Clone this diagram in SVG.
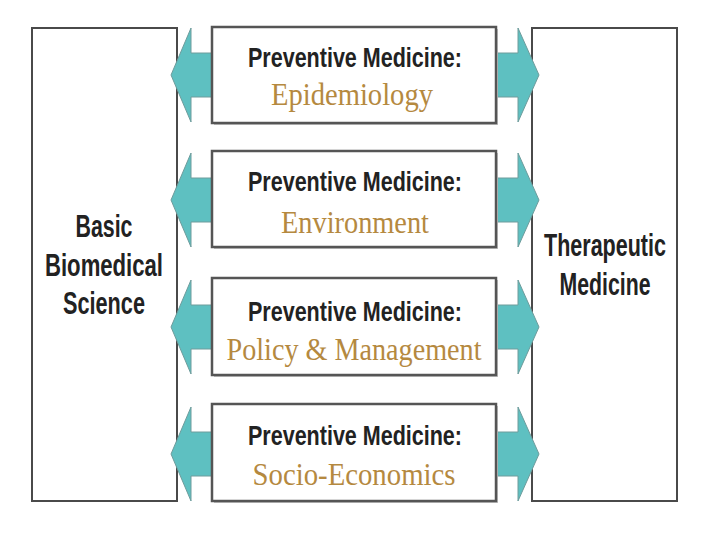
<svg xmlns="http://www.w3.org/2000/svg" width="720" height="540" viewBox="0 0 720 540">
<style>
.side{fill:#fff;stroke:#4a4a4a;stroke-width:2}
.mid{fill:#fff;stroke:#555;stroke-width:2.5}
.shadow{fill:#c4c4c4}
.arr{fill:#5ec0c1;stroke:#6e9c9c;stroke-width:1}
.hd{font-family:"Liberation Sans",Arial,sans-serif;font-weight:bold;font-size:28px;fill:#222;text-anchor:middle}
.big{font-family:"Liberation Sans",Arial,sans-serif;font-weight:bold;font-size:31px;fill:#222;text-anchor:middle}
.sub{font-family:"Liberation Serif","Times New Roman",serif;font-size:32px;fill:#b5893f;text-anchor:middle}
</style>
<rect width="720" height="540" fill="#fff"/>
<g id="basic-biomedical-science">
<rect class="side" x="32" y="28" width="145" height="473"/>
<text class="big" x="104" y="237" textLength="57" lengthAdjust="spacingAndGlyphs">Basic</text>
<text class="big" x="104" y="276" textLength="118" lengthAdjust="spacingAndGlyphs">Biomedical</text>
<text class="big" x="104" y="314" textLength="82" lengthAdjust="spacingAndGlyphs">Science</text>
</g>
<g id="therapeutic-medicine">
<rect class="side" x="532" y="28" width="145" height="473"/>
<text class="big" x="605" y="256" textLength="122" lengthAdjust="spacingAndGlyphs">Therapeutic</text>
<text class="big" x="605" y="295" textLength="91" lengthAdjust="spacingAndGlyphs">Medicine</text>
</g>
<g id="connectors">
<polygon class="arr" points="171,75 191,28 191,53 212,53 212,97 191,97 191,122"/>
<polygon class="arr" points="496,53 518,53 518,28 539,75 518,122 518,97 496,97"/>
<polygon class="arr" points="171,200 191,153 191,178 212,178 212,222 191,222 191,247"/>
<polygon class="arr" points="496,178 518,178 518,153 539,200 518,247 518,222 496,222"/>
<polygon class="arr" points="171,327 191,280 191,305 212,305 212,349 191,349 191,374"/>
<polygon class="arr" points="496,305 518,305 518,280 539,327 518,374 518,349 496,349"/>
<polygon class="arr" points="171,454 191,407 191,432 212,432 212,476 191,476 191,501"/>
<polygon class="arr" points="496,432 518,432 518,407 539,454 518,501 518,476 496,476"/>
</g>
<g id="pm-epidemiology">
<rect class="shadow" x="214" y="29" width="284" height="96"/>
<rect class="mid" x="212" y="27" width="284" height="96"/>
<text class="hd" x="355" y="67" textLength="214" lengthAdjust="spacingAndGlyphs">Preventive Medicine:</text>
<text class="sub" x="352" y="105" textLength="162" lengthAdjust="spacingAndGlyphs">Epidemiology</text>
</g>
<g id="pm-environment">
<rect class="shadow" x="214" y="153" width="284" height="96"/>
<rect class="mid" x="212" y="151" width="284" height="96"/>
<text class="hd" x="355" y="191" textLength="214" lengthAdjust="spacingAndGlyphs">Preventive Medicine:</text>
<text class="sub" x="355" y="233" textLength="148" lengthAdjust="spacingAndGlyphs">Environment</text>
</g>
<g id="pm-policy-management">
<rect class="shadow" x="214" y="280" width="284" height="97"/>
<rect class="mid" x="212" y="278" width="284" height="97"/>
<text class="hd" x="355" y="321" textLength="214" lengthAdjust="spacingAndGlyphs">Preventive Medicine:</text>
<text class="sub" x="354" y="360" textLength="255" lengthAdjust="spacingAndGlyphs">Policy &amp; Management</text>
</g>
<g id="pm-socio-economics">
<rect class="shadow" x="214" y="406" width="284" height="97"/>
<rect class="mid" x="212" y="404" width="284" height="97"/>
<text class="hd" x="355" y="445" textLength="214" lengthAdjust="spacingAndGlyphs">Preventive Medicine:</text>
<text class="sub" x="354" y="485" textLength="203" lengthAdjust="spacingAndGlyphs">Socio-Economics</text>
</g>
</svg>
